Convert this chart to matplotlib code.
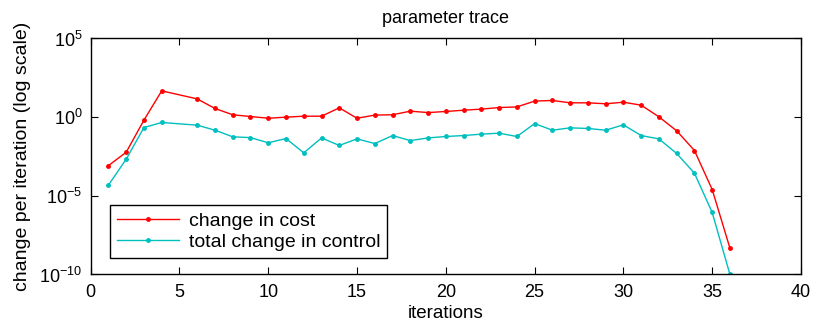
import matplotlib
matplotlib.use("Agg")
import matplotlib.pyplot as plt
from matplotlib.ticker import FixedLocator, LogFormatterMathtext, NullLocator

plt.rcParams['font.family'] = ['Liberation Sans', 'DejaVu Sans']
plt.rcParams['mathtext.fontset'] = 'custom'
plt.rcParams['mathtext.rm'] = 'Liberation Sans'
plt.rcParams['mathtext.it'] = 'Liberation Sans:italic'

iterations = [1, 2, 3, 4, 6, 7, 8, 9, 10, 11, 12, 13, 14, 15, 16, 17, 18, 19, 20,
              21, 22, 23, 24, 25, 26, 27, 28, 29, 30, 31, 32, 33, 34, 35, 36]
log_cost = [-3.08, -2.23, -0.19, 1.67, 1.16, 0.55, 0.15, 0.04, -0.07, 0.0, 0.06, 0.06,
            0.59, -0.07, 0.13, 0.15, 0.38, 0.29, 0.36, 0.44, 0.51, 0.61, 0.65, 1.02,
            1.06, 0.91, 0.91, 0.85, 0.95, 0.76, 0.02, -0.87, -2.12, -4.60, -8.33]
log_control = [-4.32, -2.67, -0.66, -0.34, -0.51, -0.83, -1.25, -1.30, -1.63, -1.36,
               -2.27, -1.32, -1.80, -1.38, -1.68, -1.17, -1.49, -1.32, -1.23, -1.17,
               -1.08, -1.02, -1.23, -0.41, -0.83, -0.68, -0.72, -0.83, -0.49, -1.17,
               -1.38, -2.31, -3.56, -6.06, -10.0]
cost = [10 ** v for v in log_cost]
control = [10 ** v for v in log_control]

fig = plt.figure(figsize=(8.14, 3.26), dpi=100)
ax = fig.add_axes([0.1114, 0.158, 0.8726, 0.724])
ax.plot(iterations, cost, '-', color='#ff0000', marker='.', markersize=5,
        linewidth=1.0, label='change in cost')
ax.plot(iterations, control, '-', color='#00bfbf', marker='.', markersize=5,
        linewidth=1.0, label='total change in control')
ax.set_yscale('log')
ax.set_xlim(0, 40)
ax.set_ylim(1e-10, 1e5)
ax.xaxis.set_major_locator(FixedLocator([0, 5, 10, 15, 20, 25, 30, 35, 40]))
ax.yaxis.set_major_locator(FixedLocator([1e-10, 1e-5, 1e0, 1e5]))
ax.yaxis.set_major_formatter(LogFormatterMathtext())
ax.yaxis.set_minor_locator(NullLocator())
ax.tick_params(direction='in', top=True, right=True, labelsize=13, length=5, width=0.8)
ax.tick_params(axis='x', pad=7)
ax.tick_params(axis='y', pad=6)
for s in ax.spines.values():
    s.set_linewidth(1.0)
ax.set_xlabel('iterations', fontsize=13.5, labelpad=3)
ax.set_ylabel('change per iteration (log scale)', fontsize=14, labelpad=6)
ax.set_title('parameter trace', fontsize=13, pad=11)
leg = ax.legend(loc='lower left', bbox_to_anchor=(0.027, 0.07), borderaxespad=0,
                fontsize=14, fancybox=False, edgecolor='black', framealpha=1,
                handlelength=3.2, handletextpad=0.5, borderpad=0.35, labelspacing=0.2)
leg.get_frame().set_linewidth(1.0)
fig.savefig('out.png', dpi=100)
